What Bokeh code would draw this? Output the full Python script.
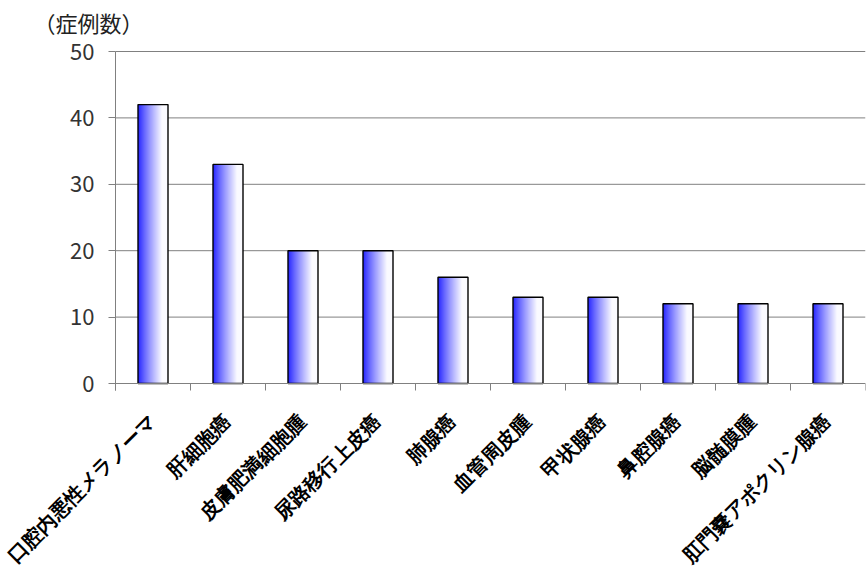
import math
from bokeh.plotting import figure
from bokeh.models import Range1d, FixedTicker, ColumnDataSource, LabelSet
from bokeh.embed import file_html
from bokeh.resources import INLINE

categories = ["口腔内悪性メラノーマ", "肝細胞癌", "皮膚肥満細胞腫", "尿路移行上皮癌", "肺腺癌",
              "血管周皮腫", "甲状腺癌", "鼻腔腺癌", "脳髄膜腫", "肛門嚢アポクリン腺癌"]
counts = [42, 33, 20, 20, 16, 13, 13, 12, 12, 12]
y_ticks = [0, 10, 20, 30, 40, 50]
y_title = "（症例数）"

FONT = "Noto Sans CJK JP"
n = len(categories)

W, H = 866, 568
TOP = 40                    # frame top (title panel)
Y50, Y0 = 51, 383           # pixel rows of 50 and 0
X0, XN = 115, 865           # pixel columns of the category band
pxu = (Y0 - Y50) / (y_ticks[-1] - y_ticks[0])
y_end = y_ticks[-1] + (Y50 - TOP) / pxu
y_start = y_ticks[0] - (H - Y0) / pxu
pxx = (XN - X0) / n
x_start = -X0 / pxx
x_end = n + (W - 1 - XN) / pxx
tick_len = 7 / pxu

p = figure(width=W, height=H, output_backend="svg", toolbar_location=None,
           x_range=Range1d(x_start, x_end), y_range=Range1d(y_start, y_end),
           min_border_left=0, min_border_right=1, min_border_top=TOP, min_border_bottom=0)

p.title.text = y_title
p.title.text_font = FONT
p.title.text_font_size = "22px"
p.title.text_font_style = "normal"
p.title.text_color = "#222222"
p.title.align = "left"
p.title.vertical_align = "top"
p.title.offset = 33
p.title.standoff = 2

# grid (only across the category band)
p.xgrid.grid_line_color = None
p.ygrid.visible = False
gy = y_ticks[1:]
p.segment(x0=[0] * len(gy), y0=gy, x1=[n] * len(gy), y1=gy,
          line_color="#808080", line_width=1)

# gradient bars made of thin slices
N = 30
bw = 0.4
left, right, top, colors = [], [], [], []
for i, v in enumerate(counts):
    x0 = i + 0.5 - bw / 2
    for k in range(N):
        t = (k + 0.5) / N
        w = min(1.0, t / 0.8) ** 0.85
        w = 0.12 + 0.86 * w
        r = int(round(255 * w)); g = r; b = 255
        left.append(x0 + k * bw / N)
        right.append(x0 + (k + 1) * bw / N + 0.0005)
        top.append(v)
        colors.append("#%02x%02x%02x" % (r, g, b))
src = ColumnDataSource(dict(left=left, right=right, top=top, color=colors))
p.quad(left="left", right="right", bottom=0, top="top", fill_color="color",
       line_color=None, source=src)

centers = [i + 0.5 for i in range(n)]
p.vbar(x=centers, top=counts, width=bw, bottom=0, fill_color=None,
       line_color="black", line_width=1.4)

# axis lines and category boundary ticks
p.segment(x0=[0, 0], y0=[-tick_len, 0], x1=[0, n], y1=[y_ticks[-1], 0],
          line_color="#808080", line_width=1)
bounds = list(range(n + 1))
p.segment(x0=bounds, y0=[0] * len(bounds), x1=bounds, y1=[-tick_len] * len(bounds),
          line_color="#808080", line_width=1)

# y axis, fixed at x = 0 inside the frame
yax = p.yaxis[0]
yax.fixed_location = 0
yax.ticker = FixedTicker(ticks=y_ticks)
yax.axis_line_color = None
yax.major_tick_line_color = "#808080"
yax.major_tick_out = 7
yax.major_tick_in = 0
yax.minor_tick_line_color = None
yax.major_label_text_font = FONT
yax.major_label_text_font_size = "22px"
yax.major_label_text_color = "#333333"
yax.major_label_standoff = 14

p.xaxis.visible = False

lab_src = ColumnDataSource(dict(x=centers, y=[0] * n, text=categories))
labels = LabelSet(x="x", y="y", text="text", source=lab_src, angle=math.pi / 4,
                  x_offset=-1, y_offset=-34, text_align="right", text_baseline="middle",
                  text_font=FONT, text_font_size="20px", text_font_style="bold",
                  text_color="black")
p.add_layout(labels)

p.outline_line_color = None
p.background_fill_color = "white"
p.border_fill_color = "white"

open("out.html", "w").write(file_html(p, INLINE))
